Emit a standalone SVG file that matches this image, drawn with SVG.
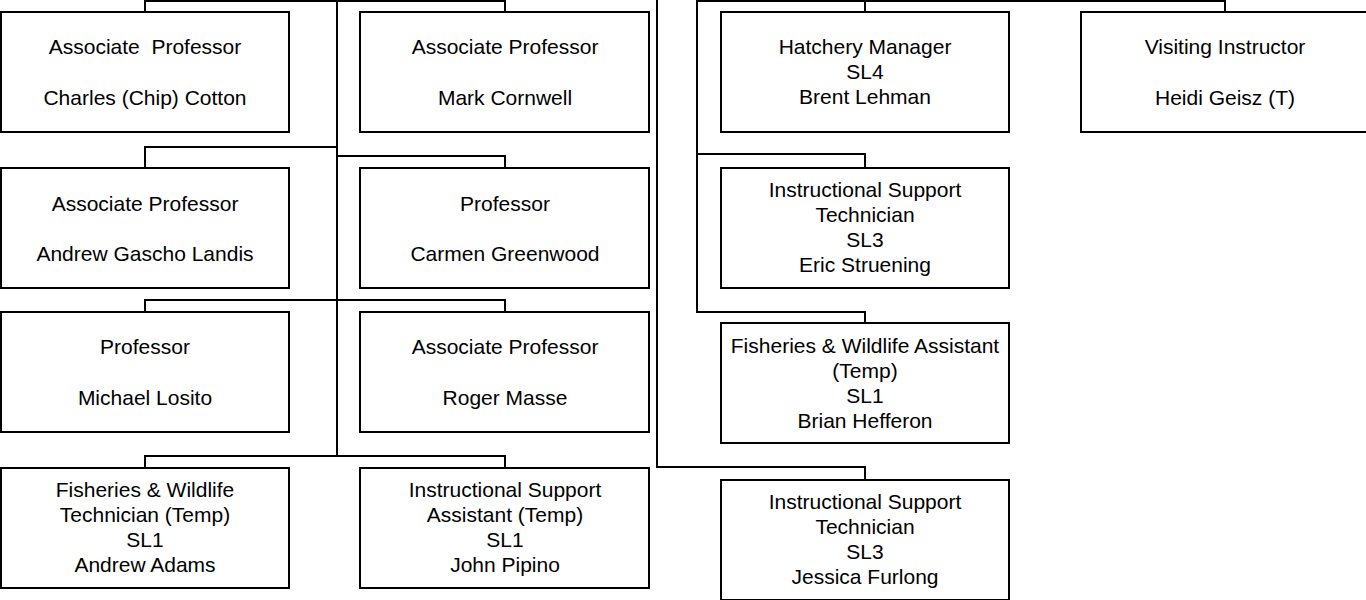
<svg xmlns="http://www.w3.org/2000/svg" width="1366" height="600" viewBox="0 0 1366 600">
<style>
.box{fill:#fff;stroke:#000;stroke-width:2}
.ln{fill:none;stroke:#000;stroke-width:2}
text{font-family:"Liberation Sans",Arial,sans-serif;font-size:21px;fill:#000;text-anchor:middle}
</style>
<rect width="1366" height="600" fill="#fff"/>
<g id="connectors">
<path class="ln" d="M145,12 V1 H505 V12"/>
<path class="ln" d="M337,0 V456"/>
<path class="ln" d="M337,147 H145 V168"/>
<path class="ln" d="M337,156 H505 V168"/>
<path class="ln" d="M145,312 V300 H505 V312"/>
<path class="ln" d="M145,468 V456 H505 V468"/>
<path class="ln" d="M657,0 V467 H865 V480"/>
<path class="ln" d="M697,0 V312 H865 V323"/>
<path class="ln" d="M697,154 H865 V168"/>
<path class="ln" d="M697,1 H1225 V12"/>
<path class="ln" d="M865,1 V12"/>
</g>
<g id="n1"><rect class="box" x="1" y="12" width="288" height="120"/>
<text x="145" y="54" xml:space="preserve">Associate  Professor</text><text x="145" y="105">Charles (Chip) Cotton</text></g>
<g id="n2"><rect class="box" x="360" y="12" width="289" height="120"/>
<text x="505" y="54">Associate Professor</text><text x="505" y="105">Mark Cornwell</text></g>
<g id="n3"><rect class="box" x="721" y="12" width="288" height="120"/>
<text x="865" y="54">Hatchery Manager</text><text x="865" y="79">SL4</text><text x="865" y="104">Brent Lehman</text></g>
<g id="n4"><rect class="box" x="1081" y="12" width="288" height="120"/>
<text x="1225" y="54">Visiting Instructor</text><text x="1225" y="105">Heidi Geisz (T)</text></g>
<g id="n5"><rect class="box" x="1" y="168" width="288" height="120"/>
<text x="145" y="211">Associate Professor</text><text x="145" y="261">Andrew Gascho Landis</text></g>
<g id="n6"><rect class="box" x="360" y="168" width="289" height="120"/>
<text x="505" y="211">Professor</text><text x="505" y="261">Carmen Greenwood</text></g>
<g id="n7"><rect class="box" x="721" y="168" width="288" height="120"/>
<text x="865" y="197">Instructional Support</text><text x="865" y="222">Technician</text><text x="865" y="247">SL3</text><text x="865" y="272">Eric Struening</text></g>
<g id="n8"><rect class="box" x="1" y="312" width="288" height="120"/>
<text x="145" y="354">Professor</text><text x="145" y="405">Michael Losito</text></g>
<g id="n9"><rect class="box" x="360" y="312" width="289" height="120"/>
<text x="505" y="354">Associate Professor</text><text x="505" y="405">Roger Masse</text></g>
<g id="n10"><rect class="box" x="721" y="323" width="288" height="120"/>
<text x="865" y="353">Fisheries &amp; Wildlife Assistant</text><text x="865" y="378">(Temp)</text><text x="865" y="403">SL1</text><text x="865" y="428">Brian Hefferon</text></g>
<g id="n11"><rect class="box" x="1" y="468" width="288" height="120"/>
<text x="145" y="497">Fisheries &amp; Wildlife</text><text x="145" y="522">Technician (Temp)</text><text x="145" y="547">SL1</text><text x="145" y="572">Andrew Adams</text></g>
<g id="n12"><rect class="box" x="360" y="468" width="289" height="120"/>
<text x="505" y="497">Instructional Support</text><text x="505" y="522">Assistant (Temp)</text><text x="505" y="547">SL1</text><text x="505" y="572">John Pipino</text></g>
<g id="n13"><rect class="box" x="721" y="480" width="288" height="120"/>
<text x="865" y="509">Instructional Support</text><text x="865" y="534">Technician</text><text x="865" y="559">SL3</text><text x="865" y="584">Jessica Furlong</text></g>
</svg>
